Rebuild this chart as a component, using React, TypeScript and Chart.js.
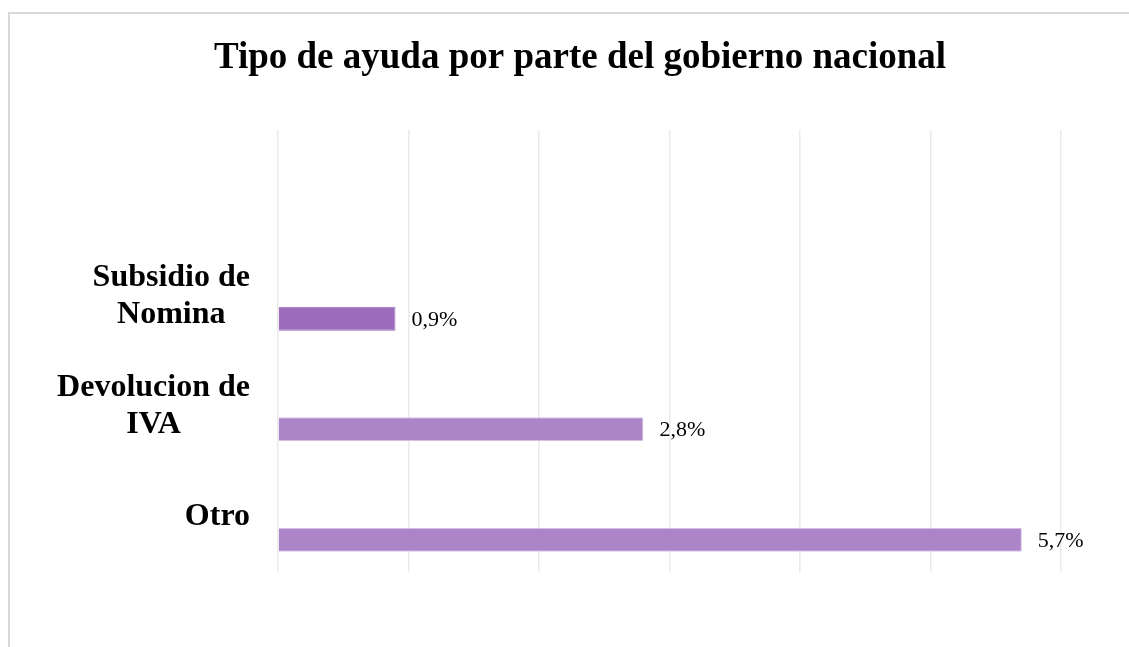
import React, { useEffect, useRef } from "react";
import { Chart, registerables } from "chart.js";

Chart.register(...registerables);

const TITLE = "Tipo de ayuda por parte del gobierno nacional";
const categories: string[][] = [[""], ["Subsidio de", "Nomina"], ["Devolucion de", "IVA"], ["Otro"]];
const values: (number | null)[] = [null, 0.9, 2.8, 5.7];
const emptySeries: (number | null)[] = [null, null, null, null];
const barColors = ["#AB85C8", "#9C6DBB", "#AB85C8", "#AB85C8"];
const barBorders = ["#D9C6E8", "#9C6DBB", "#D9C6E8", "#D9C6E8"];
const xTicks = [0, 1, 2, 3, 4, 5, 6];

const SERIF = "'Liberation Serif', 'Times New Roman', serif";

const titlePlugin = {
  id: "customTitle",
  afterDraw(chart: any) {
    const ctx = chart.ctx;
    ctx.save();
    ctx.font = `bold 37px ${SERIF}`;
    ctx.fillStyle = "#000";
    ctx.textAlign = "center";
    ctx.textBaseline = "alphabetic";
    ctx.fillText(TITLE, 580, 68);
    ctx.restore();
  },
};

const catLabelPlugin = {
  id: "catLabels",
  afterDraw(chart: any) {
    const ctx = chart.ctx;
    const yScale = chart.scales.y;
    ctx.save();
    ctx.font = `bold 32px ${SERIF}`;
    ctx.fillStyle = "#000";
    ctx.textBaseline = "middle";
    ctx.textAlign = "center";
    const rightX = 250;
    const lh = 37;
    categories.forEach((lines, i) => {
      if (!lines.join("")) return;
      const cy = yScale.getPixelForValue(i);
      const widest = Math.max(...lines.map((l) => ctx.measureText(l).width));
      const cx = rightX - widest / 2;
      const startY = cy - ((lines.length - 1) * lh) / 2;
      lines.forEach((l, j) => ctx.fillText(l, cx, startY + j * lh));
    });
    ctx.restore();
  },
};

const dataLabelPlugin = {
  id: "dataLabels",
  afterDatasetsDraw(chart: any) {
    const ctx = chart.ctx;
    const meta = chart.getDatasetMeta(1);
    ctx.save();
    ctx.font = `22px ${SERIF}`;
    ctx.fillStyle = "#000";
    ctx.textAlign = "left";
    ctx.textBaseline = "middle";
    meta.data.forEach((bar: any, i: number) => {
      const v = values[i];
      if (v == null) return;
      ctx.fillText(v.toFixed(1).replace(".", ",") + "%", bar.x + 16, bar.y + 1);
    });
    ctx.restore();
  },
};

export default function App() {
  const ref = useRef<HTMLCanvasElement>(null);
  useEffect(() => {
    if (!ref.current) return;
    const chart = new Chart(ref.current, {
      type: "bar",
      data: {
        labels: categories.map((c) => c.join(" ")),
        datasets: [
          { data: emptySeries as any, backgroundColor: "transparent" },
          {
            data: values as any,
            backgroundColor: barColors,
            borderColor: barBorders,
            borderWidth: 1,
          },
        ],
      },
      options: {
        indexAxis: "y",
        responsive: false,
        animation: false,
        layout: { padding: { left: 99, right: 68, top: 130, bottom: 75 } },
        datasets: { bar: { barPercentage: 0.52, categoryPercentage: 0.833 } },
        plugins: { legend: { display: false }, title: { display: false }, tooltip: { enabled: false } },
        scales: {
          x: {
            min: 0,
            max: 6,
            afterBuildTicks: (scale: any) => {
              scale.ticks = xTicks.map((v) => ({ value: v }));
            },
            ticks: { display: false },
            grid: { color: "#EAEAEA", lineWidth: 1.5, drawTicks: false },
            border: { display: false },
          },
          y: {
            ticks: { display: false },
            grid: { display: false, drawTicks: false },
            border: { display: false },
            afterFit: (scale: any) => {
              scale.width = 179;
            },
          },
        },
      },
      plugins: [titlePlugin, catLabelPlugin, dataLabelPlugin],
    });
    return () => chart.destroy();
  }, []);

  return (
    <div style={{ position: "fixed", left: 0, top: 0, width: 1129, height: 647, overflow: "hidden", background: "#fff" }}>
      <div
        style={{
          position: "absolute",
          left: 8,
          top: 12,
          width: 1200,
          height: 700,
          border: "2px solid #D9D9D9",
          boxSizing: "border-box",
        }}
      />
      <canvas ref={ref} width={1129} height={647} style={{ position: "absolute", left: 0, top: 0 }} />
    </div>
  );
}
